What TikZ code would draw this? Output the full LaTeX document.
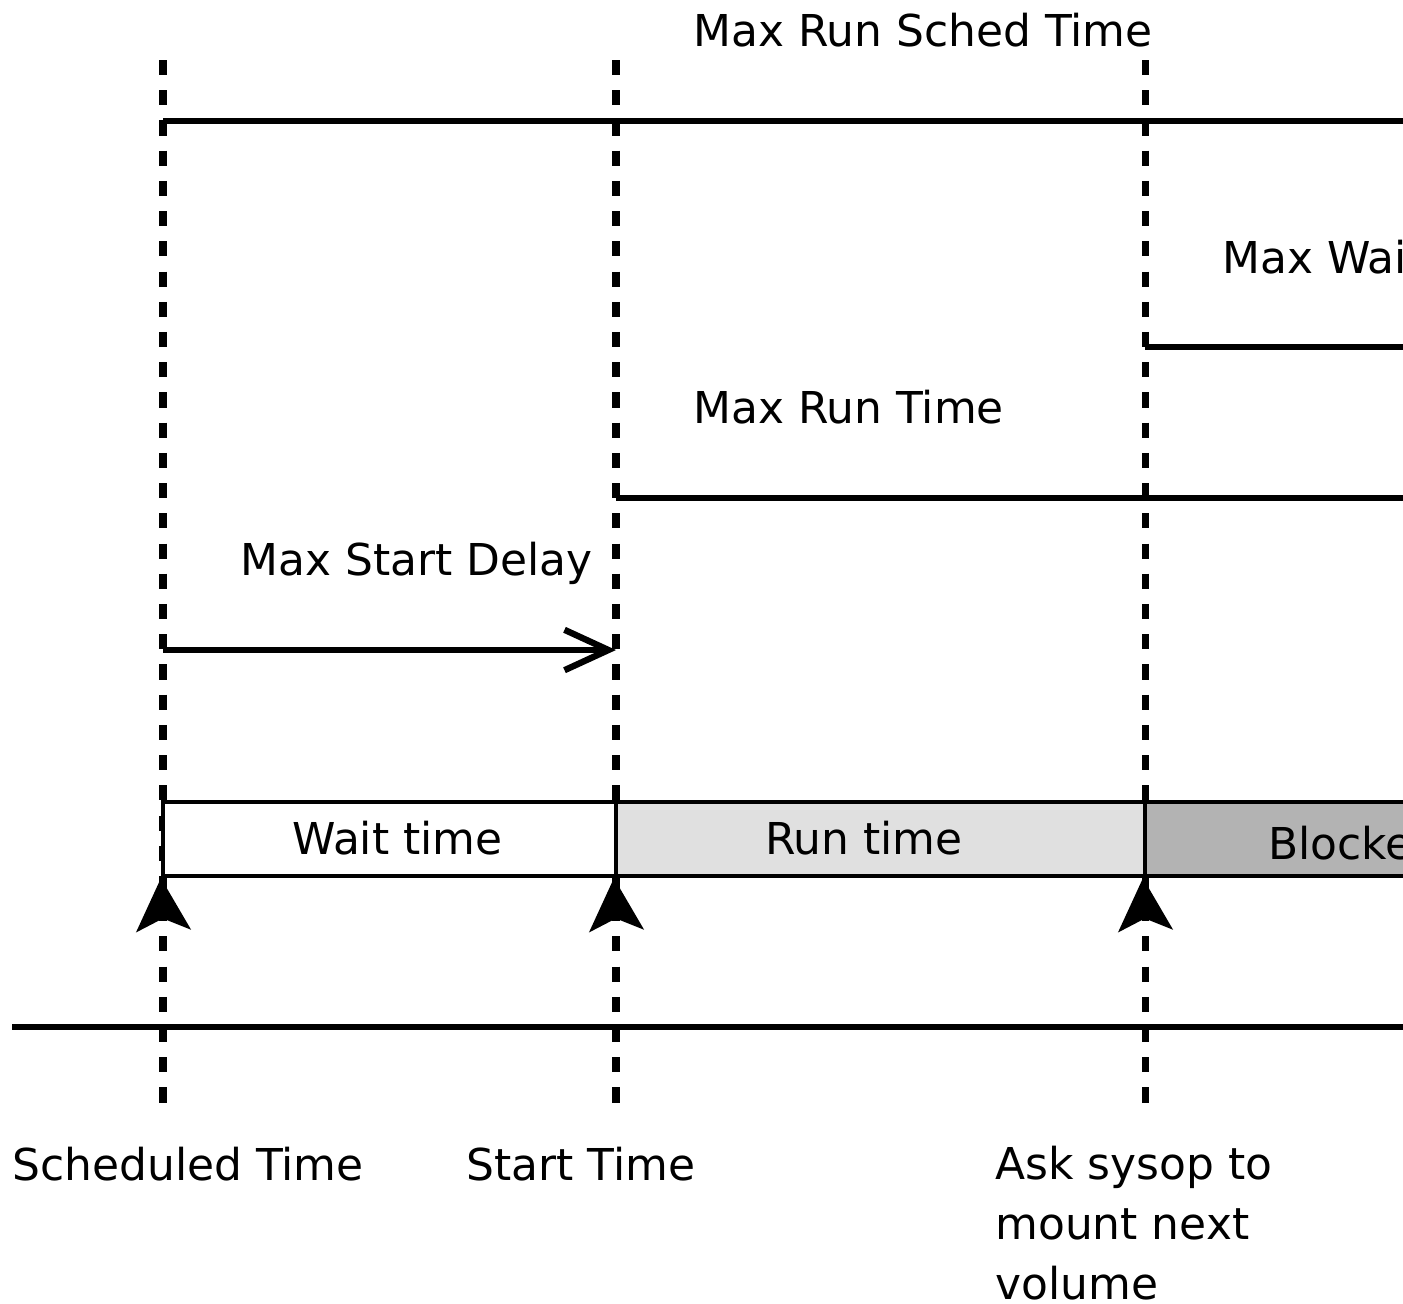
\documentclass[tikz,border=0pt]{standalone}
\usepackage{fontspec}
\setmainfont{DejaVu Sans}
\usetikzlibrary{arrows.meta}
\definecolor{runfill}{HTML}{E0E0E0}
\definecolor{blockfill}{HTML}{B3B3B3}
\tikzset{
  guide/.style={line width=4pt, dash pattern=on 8.6pt off 8.6pt},
  span/.style={line width=3.6pt},
  box/.style={draw, line width=2.4pt, minimum height=1.48cm, inner sep=0pt},
  lbl/.style={anchor=base west, inner sep=0pt},
  up/.style={-{Stealth[length=30pt, width=31pt, inset=7pt]}, line width=3pt}
}
\begin{document}
\begin{tikzpicture}[x=0.02cm, y=-0.02cm, font=\fontsize{25}{34.1}\selectfont]
  \useasboundingbox (0,0) rectangle (1403,1303);
  \clip (0,0) rectangle (1403,1303);
  \coordinate (schedtop) at (163,60);
  \coordinate (schedbot) at (163,1105);
  \coordinate (starttop) at (616,60);
  \coordinate (startbot) at (616,1105);
  \coordinate (asktop) at (1145,60);
  \coordinate (askbot) at (1145,1105);
	\draw [guide] (schedtop)--(schedbot);
	\draw [guide] (starttop)--(startbot);
	\draw [guide] (asktop)--(askbot);
  % limits
  \coordinate (sched) at (163,121);
  \coordinate (schedend) at (1420,121);
  \coordinate (wait) at (1145,347);
  \coordinate (waitend) at (1420,347);
  \coordinate (run) at (616,498);
  \coordinate (runend) at (1420,498);
  \coordinate (delay) at (163,650);
  \coordinate (delayend) at (616,650);
	\draw [span] (sched)--(schedend);
	\draw [span] (wait)--(waitend);
	\draw [span] (run)--(runend);
	\draw [span,-{Straight Barb[length=25pt, width=23pt]}] (delay)--(delayend);
  \node[lbl] (schedlbl) at (693,46) {Max Run Sched Time};
  \node[lbl] (waitlbl) at (1222,273) {Max Wait};
  \node[lbl] (runlbl) at (693,423) {Max Run Time};
  \node[lbl] (delaylbl) at (240,575) {Max Start Delay};
  % phases
  \node[box, fill=white, minimum width=9.06cm] (waitbox) at (389.5,839) {};
  \node[box, fill=runfill, minimum width=10.58cm] (runbox) at (880.5,839) {};
  \node[box, fill=blockfill, minimum width=11.1cm] (blockbox) at (1422.5,839) {};
  \node[lbl] (waittxt) at (292,854) {Wait time};
  \node[lbl] (runtxt) at (765,854) {Run time};
  \node[lbl] (blocktxt) at (1268,859) {Blocked};
  \coordinate (schedup) at (163,920);
  \coordinate (startup) at (616,920);
  \coordinate (askup) at (1145,920);
	\draw [up] (schedup)--(waitbox.south west);
	\draw [up] (startup)--(runbox.south west);
	\draw [up] (askup)--(blockbox.south west);
  % time axis
  \coordinate (axisL) at (12,1027);
  \coordinate (axisR) at (1420,1027);
	\draw [span] (axisL)--(axisR);
  \node[lbl] (schedtime) at (12,1180) {Scheduled Time};
  \node[lbl] (starttime) at (466,1180) {Start Time};
  \node[lbl, align=left] (asktime) at (995,1299) {Ask sysop to\\mount next\\volume};
\end{tikzpicture}
\end{document}
